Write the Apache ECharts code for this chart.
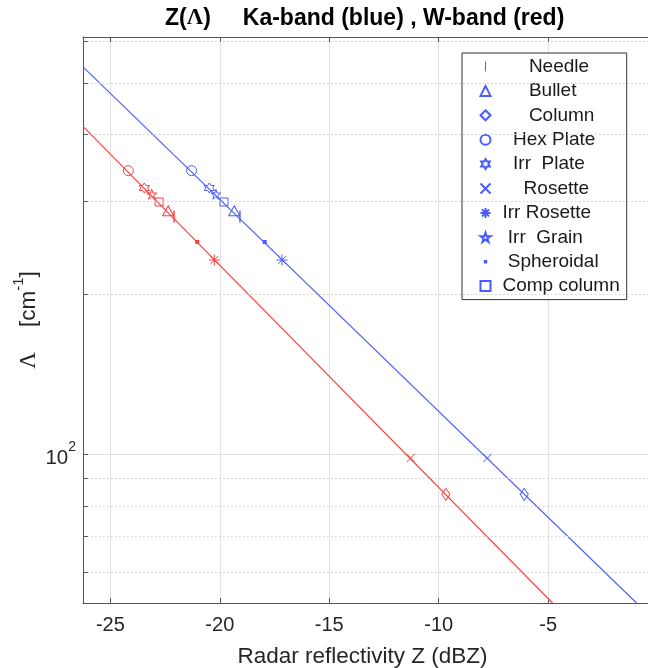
<!DOCTYPE html>
<html><head><meta charset="utf-8">
<script src="https://cdn.jsdelivr.net/npm/echarts@6/dist/echarts.min.js"></script>
<style>html,body{margin:0;padding:0;background:#fff}#c{width:648px;height:668px}</style>
</head><body><div id="c"></div>
<script>
// ---- data ----
const habits = ['     Needle','     Bullet','     Column','  Hex Plate','  Irr  Plate','    Rosette','Irr Rosette',' Irr  Grain',' Spheroidal','Comp column'];
const lambdaVals = [280.7, 287.7, 84.1, 342.2, 317.5, 98.45, 232.3, 309.0, 251.2, 298.8];
const zKa = [-19.08, -19.34, -6.09, -21.29, -20.48, -7.78, -17.16, -20.18, -17.95, -19.81];
const zW  = [-22.09, -22.36, -9.67, -24.18, -23.45, -11.28, -20.25, -23.11, -21.03, -22.77];
const kaLineZ = [-26.25, -0.96];
const kaLineL = [536.6, 52.5];
const wLineZ  = [-26.25, -4.80];
const wLineL  = [414.7, 52.5];
const xTickLabels = [-25, -20, -15, -10, -5];
const yMinorGrid = [60, 70, 80, 90, 200, 300, 400, 500, 600];

// ---- styles ----
const BLUE = '#4a5cff', RED = '#ff3d3d';
const XMIN = -26.25, XMAX = -0.3, YMIN = 52.5, YMAX = 611;
const NEEDLE = 'path://M0 0L1 0L1 10L0 10Z';
const HEX = 'path://M10 0L12.887 5L18.66 5L15.774 10L18.66 15L12.887 15L10 20L7.113 15L1.34 15L4.226 10L1.34 5L7.113 5Z';
const PENT = 'path://M10 0L12.245 6.91L19.511 6.91L13.633 11.18L15.878 18.09L10 13.82L4.122 18.09L6.367 11.18L0.489 6.91L7.755 6.91Z';
const CROSS = 'path://M0 0L10 10M10 0L0 10';
const AST = 'path://M5 0L5 10M0 5L10 5M1.5 1.5L8.5 8.5M8.5 1.5L1.5 8.5';
const DOT = 'path://M0 0L0.01 0L0 0.01Z M10 10L9.99 10L10 9.99Z M3.3 3.3L6.7 3.3L6.7 6.7L3.3 6.7Z';
const markerStyles = [
  {symbol: NEEDLE, size: [1.4, 12], fill: true},
  {symbol: 'triangle', size: [11, 10], fill: false},
  {symbol: 'diamond', size: [8, 12], fill: false},
  {symbol: 'circle', size: 10, fill: false},
  {symbol: HEX, size: 10, fill: false},
  {symbol: CROSS, size: 8, fill: false},
  {symbol: AST, size: 11, fill: false},
  {symbol: PENT, size: 10, fill: false},
  {symbol: DOT, size: 12, fill: true},
  {symbol: 'rect', size: 8, fill: false}
];

function styleFor(color, fill) {
  return fill ? {color: color, borderWidth: 0, opacity: 1}
              : {color: 'none', borderColor: color, borderWidth: 1, opacity: 1};
}

const series = [];
series.push({
  name: 'KaLine', type: 'line', xAxisIndex: 0, yAxisIndex: 0,
  data: kaLineZ.map((z, i) => [z, kaLineL[i]]),
  showSymbol: false, symbol: 'none', lineStyle: {color: BLUE, width: 1.1, opacity: 1}, itemStyle: {color: BLUE},
  silent: true, z: 3, emphasis: {disabled: true},
  markLine: {
    silent: true, symbol: ['none', 'none'], label: {show: false}, animation: false,
    lineStyle: {type: [1.5, 2.5], color: '#cfcfcf', width: 1},
    data: yMinorGrid.map(v => ({yAxis: v}))
  }
});
series.push({
  name: 'WLine', type: 'line', xAxisIndex: 0, yAxisIndex: 0,
  data: wLineZ.map((z, i) => [z, wLineL[i]]),
  showSymbol: false, symbol: 'none', lineStyle: {color: RED, width: 1.1, opacity: 1}, itemStyle: {color: RED},
  silent: true, z: 3, emphasis: {disabled: true},
  markLine: {
    silent: true, symbol: ['none', 'none'], label: {show: false}, animation: false,
    lineStyle: {type: 'solid', color: '#555', width: 1},
    data: yMinorGrid.map(v => [{coord: [XMIN, v]}, {coord: [XMIN + 0.22, v]}])
  }
});
habits.forEach((h, i) => {
  const m = markerStyles[i];
  series.push({
    name: h, type: 'scatter', symbol: m.symbol, symbolSize: m.size, z: 4,
    itemStyle: styleFor(BLUE, m.fill),
    data: [
      {value: [zKa[i], lambdaVals[i]], itemStyle: styleFor(BLUE, m.fill)},
      {value: [zW[i], lambdaVals[i]], itemStyle: styleFor(RED, m.fill)}
    ]
  });
});

const FONT = 'Liberation Sans, Arial, sans-serif';
const SERIF = 'Liberation Serif, Times New Roman, serif';
const AXC = '#555555';
const chart = echarts.init(document.getElementById('c'), null, {renderer: 'canvas'});
chart.setOption({
  animation: false,
  backgroundColor: '#ffffff',
  title: {
    left: 165, top: 7, padding: 0,
    text: '{a|Z(}{l|Λ}{a|)     Ka-band (blue) , W-band (red)}',
    textStyle: {
      rich: {
        a: {fontSize: 23, fontWeight: 'bold', fontFamily: FONT, color: '#000'},
        l: {fontSize: 23, fontFamily: SERIF, color: '#000'}
      }
    }
  },
  legend: {
    data: habits, orient: 'vertical', left: 462, top: 53,
    itemWidth: 10, itemHeight: 10, itemGap: 5.4,
    padding: [4, 7, 4, 16],
    backgroundColor: '#ffffff', borderColor: '#333333', borderWidth: 1, borderRadius: 0,
    selectedMode: false,
    textStyle: {fontSize: 19, fontFamily: FONT, color: '#1a1a1a', padding: [0, 0, 0, 7]}
  },
  grid: {left: 83, right: -3, top: 37, bottom: 65, containLabel: false, outerBoundsMode: 'none'},
  xAxis: [{
    type: 'value', min: XMIN, max: XMAX, splitNumber: 5, position: 'bottom',
    name: 'Radar reflectivity Z (dBZ)', nameLocation: 'middle', nameGap: 42,
    nameTextStyle: {fontSize: 22.5, fontFamily: FONT, color: '#262626', padding: [0, 9, 0, 0]},
    axisLine: {show: true, lineStyle: {color: AXC, width: 1}},
    axisTick: {show: true, inside: true, length: 5, lineStyle: {color: AXC}},
    axisLabel: {fontSize: 20, fontFamily: FONT, color: '#262626', margin: 12,
      formatter: v => xTickLabels.indexOf(Math.round(v * 1000) / 1000) >= 0 ? String(v) : ''},
    splitLine: {show: true, lineStyle: {color: '#e2e2e2', width: 1}}
  }, {
    type: 'value', min: XMIN, max: XMAX, splitNumber: 5, position: 'top',
    axisLine: {show: true, lineStyle: {color: AXC, width: 1}},
    axisTick: {show: true, inside: true, length: 5, lineStyle: {color: AXC}},
    axisLabel: {show: false}, splitLine: {show: false}
  }],
  yAxis: {
    type: 'log', logBase: 10, min: YMIN, max: YMAX,
    name: '{l|Λ}{t|    [cm}{s|-1}{t|]}', nameLocation: 'middle', nameRotate: 90, nameGap: 43,
    nameMoveOverlap: false,
    nameTextStyle: {
      rich: {
        l: {fontSize: 23, fontFamily: SERIF, color: '#262626', padding: [6, 0, 0, 0]},
        t: {fontSize: 22.5, fontFamily: FONT, color: '#262626', padding: [6, 0, 0, 0]},
        s: {fontSize: 15, fontFamily: FONT, color: '#262626', verticalAlign: 'top'}
      }
    },
    axisLine: {show: true, lineStyle: {color: AXC, width: 1}},
    axisTick: {show: true, inside: true, length: 5, lineStyle: {color: AXC}},
    axisLabel: {
      margin: 7,
      formatter: v => Math.abs(v - 100) < 1e-6 ? '{a|10}{b|2}' : '',
      rich: {
        a: {fontSize: 20.5, fontFamily: FONT, color: '#262626', padding: [7, 0, 0, 0]},
        b: {fontSize: 14, fontFamily: FONT, color: '#262626', verticalAlign: 'top'}
      }
    },
    splitLine: {show: true, lineStyle: {color: '#e2e2e2', width: 1}}
  },
  series: series
});
</script>
</body></html>
